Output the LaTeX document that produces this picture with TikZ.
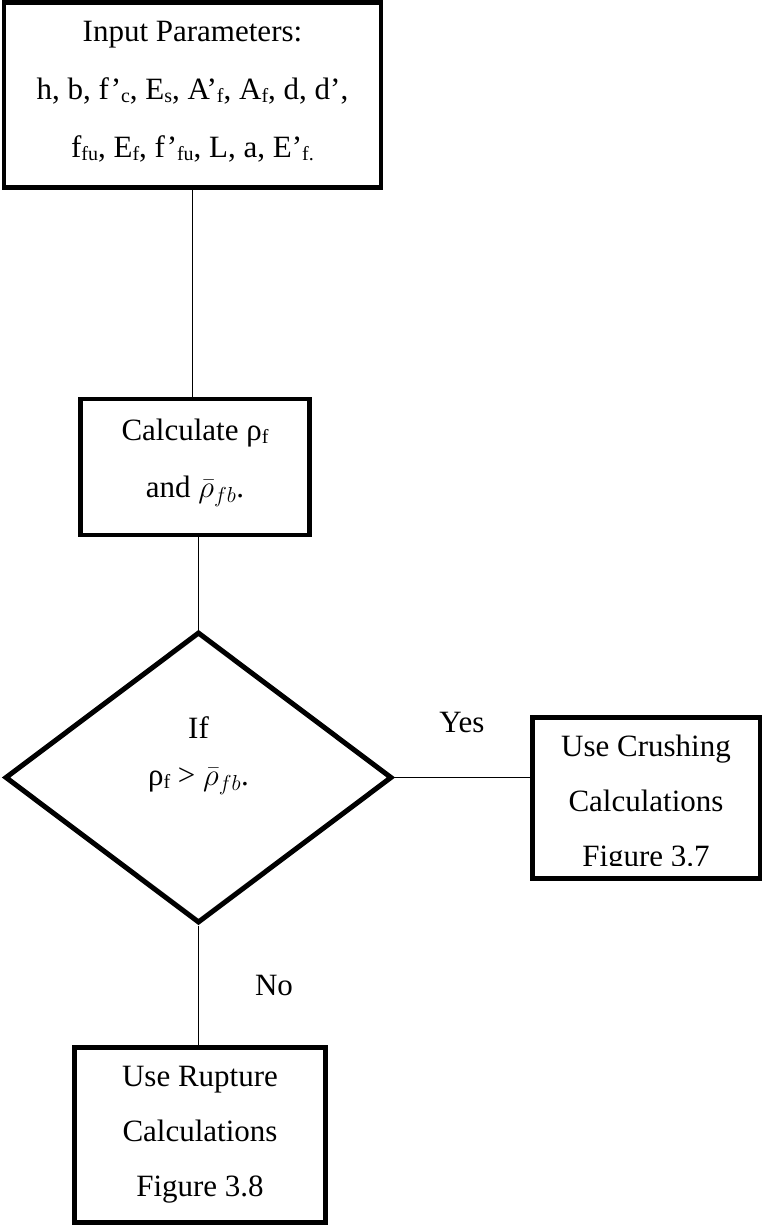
\RequirePackage{fix-cm}
\documentclass[tikz,border=0pt]{standalone}
\usepackage{fontspec}
\setmainfont{Liberation Serif}
\usetikzlibrary{shapes.geometric}
\newcommand{\lsub}[1]{\raisebox{-3pt}{\fontsize{20}{20}\selectfont #1}}
\newcommand{\rhofb}{$\bar{\rho}_{fb}$}
\begin{document}
\begin{tikzpicture}[x=1pt,y=-1pt,
  box/.style={draw, line width=4.5pt, inner sep=0pt, align=center, font=\fontsize{31}{57}\selectfont},
  decision/.style={diamond, draw, line width=5pt, inner sep=0pt, align=center, font=\fontsize{31}{47}\selectfont},
  conn/.style={line width=1.5pt},
  lbl/.style={inner sep=0pt, font=\fontsize{31}{37}\selectfont}]
\useasboundingbox (0,0) rectangle (762,1226);
\node[box, minimum width=377pt, minimum height=185pt, font=\fontsize{31}{58}\selectfont] (inp) at (192.5,95)
  {Input Parameters:\\
   h, b, f’\lsub{c}, E\lsub{s}, A’\lsub{f}, A\lsub{f}, d, d’,\\
   f\lsub{fu}, E\lsub{f}, f’\lsub{fu}, L, a, E’\lsub{f.}\rule[-12pt]{0pt}{12pt}};
\node[box, minimum width=229pt, minimum height=136pt] (calc) at (195,467)
  {Calculate ρ\lsub{f}\\ and \rhofb.\rule[-17pt]{0pt}{17pt}};
\node[decision, minimum width=387pt, minimum height=291pt] (dec) at (198.5,777.5)
  {If\\ ρ\lsub{f} > \rhofb.\rule[-52pt]{0pt}{52pt}};
\node[box, minimum width=227.5pt, minimum height=161pt, font=\fontsize{31}{55}\selectfont] (crush) at (646,798)
  {\rule{0pt}{33pt}Use Crushing\\ Calculations\\ Figure 3.7};
\fill[white] (534.5,866.3) rectangle (757.5,876.2);
\node[box, minimum width=251pt, minimum height=175pt, font=\fontsize{31}{55}\selectfont] (rup) at (200,1135)
  {Use Rupture\\ Calculations\\ Figure 3.8};
\node[lbl] (yes) at (462,722) {Yes};
\node[lbl] (no) at (274,985) {No};
\draw[conn] (inp.south) -- (inp.south |- calc.north);
\draw[conn] (dec.north |- calc.south) -- (dec.north);
\draw[conn] (dec.east) -- (dec.east -| crush.west);
\draw[conn] (dec.south) -- (dec.south |- rup.north);
\end{tikzpicture}
\end{document}
